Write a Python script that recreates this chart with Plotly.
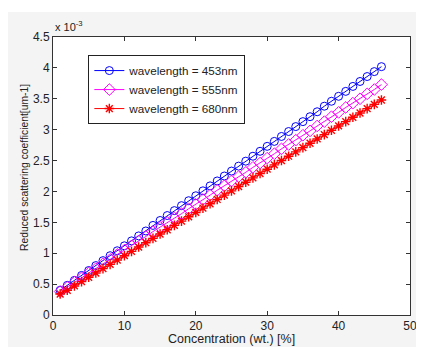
import plotly.graph_objects as go

concentration = list(range(1, 47))

# values in units of 1e-3 um^-1
wl453 = [0.40, 0.48, 0.56, 0.64, 0.72, 0.80, 0.88, 0.96, 1.04, 1.12,
         1.20, 1.28, 1.36, 1.45, 1.53, 1.61, 1.69, 1.77, 1.85, 1.93,
         2.01, 2.09, 2.17, 2.25, 2.33, 2.41, 2.49, 2.57, 2.65, 2.73,
         2.81, 2.89, 2.97, 3.05, 3.13, 3.21, 3.29, 3.38, 3.46, 3.54,
         3.62, 3.70, 3.78, 3.86, 3.94, 4.02]
wl555 = [0.38, 0.45, 0.53, 0.60, 0.68, 0.75, 0.83, 0.90, 0.98, 1.05,
         1.12, 1.20, 1.27, 1.35, 1.42, 1.50, 1.57, 1.64, 1.72, 1.79,
         1.87, 1.94, 2.02, 2.09, 2.17, 2.24, 2.31, 2.39, 2.46, 2.54,
         2.61, 2.69, 2.76, 2.83, 2.91, 2.98, 3.06, 3.13, 3.21, 3.28,
         3.36, 3.43, 3.50, 3.58, 3.65, 3.73]
wl680 = [0.34, 0.40, 0.47, 0.54, 0.61, 0.68, 0.75, 0.82, 0.89, 0.96,
         1.03, 1.10, 1.17, 1.24, 1.31, 1.38, 1.45, 1.52, 1.59, 1.66,
         1.73, 1.80, 1.87, 1.94, 2.01, 2.08, 2.15, 2.22, 2.29, 2.36,
         2.43, 2.50, 2.57, 2.64, 2.71, 2.78, 2.85, 2.92, 2.99, 3.06,
         3.13, 3.20, 3.27, 3.34, 3.41, 3.48]

series_names = ["wavelength = 453nm", "wavelength = 555nm", "wavelength = 680nm"]
x_ticks = [0, 10, 20, 30, 40, 50]
y_ticks = [0, 0.5, 1, 1.5, 2, 2.5, 3, 3.5, 4, 4.5]
y_ticktext = ["0", "0.5", "1", "1.5", "2", "2.5", "3", "3.5", "4", "4.5"]
x_title = "Concentration (wt.) [%]"
y_title = "Reduced scattering coefficient[um-1]"

fig = go.Figure()
styles = [
    dict(color="#0000ff", symbol="circle-open", size=8, lw=1),
    dict(color="#ff00ff", symbol="diamond-open", size=9, lw=1),
    dict(color="#ff0000", symbol="asterisk-open", size=8, lw=1.4),
]
for name, ys, st in zip(series_names, [wl453, wl555, wl680], styles):
    fig.add_trace(go.Scatter(
        x=concentration, y=ys, name=name, mode="lines+markers",
        line=dict(color=st["color"], width=1),
        marker=dict(symbol=st["symbol"], size=st["size"], color=st["color"],
                    line=dict(color=st["color"], width=st["lw"])),
    ))

axis_common = dict(showline=True, mirror="ticks", linecolor="#333333", linewidth=1,
                   ticks="inside", ticklen=4, tickcolor="#333333", showgrid=False,
                   zeroline=False, tickfont=dict(size=12, color="#222222"))

fig.update_layout(
    width=416, height=339,
    margin=dict(l=45, r=7, t=29, b=32),
    paper_bgcolor="#f4f4f4", plot_bgcolor="white",
    font=dict(family="Liberation Sans, Arial, sans-serif", color="#222222"),
    xaxis=dict(range=[0, 50], tickvals=x_ticks, **axis_common),
    yaxis=dict(range=[0, 4.5], tickvals=y_ticks, ticktext=y_ticktext, **axis_common),
    legend=dict(x=0.099, y=0.935, xanchor="left", yanchor="top",
                bgcolor="white", bordercolor="#222222", borderwidth=1,
                font=dict(size=11.7), tracegroupgap=0, itemsizing="trace"),
    shapes=[dict(type="rect", xref="paper", yref="paper", layer="below",
                 x0=-0.2, x1=1.1, y0=1.09, y1=1.2,
                 fillcolor="white", line=dict(width=0))],
    annotations=[
        dict(text="x 10<sup>-3</sup>", xref="paper", yref="paper",
             x=0.0, y=1.0, xanchor="left", yanchor="bottom", yshift=2,
             showarrow=False, font=dict(size=11, color="#222222")),
        dict(text=x_title, xref="paper", yref="paper", x=0.5, y=0,
             xanchor="center", yanchor="middle", yshift=-24,
             showarrow=False, font=dict(size=12.5, color="#222222")),
        dict(text=y_title, xref="paper", yref="paper", x=0, y=0.529,
             xanchor="center", yanchor="middle", xshift=-28, textangle=-90,
             showarrow=False, font=dict(size=10.3, color="#222222")),
    ],
)

fig.write_html("out.html")
